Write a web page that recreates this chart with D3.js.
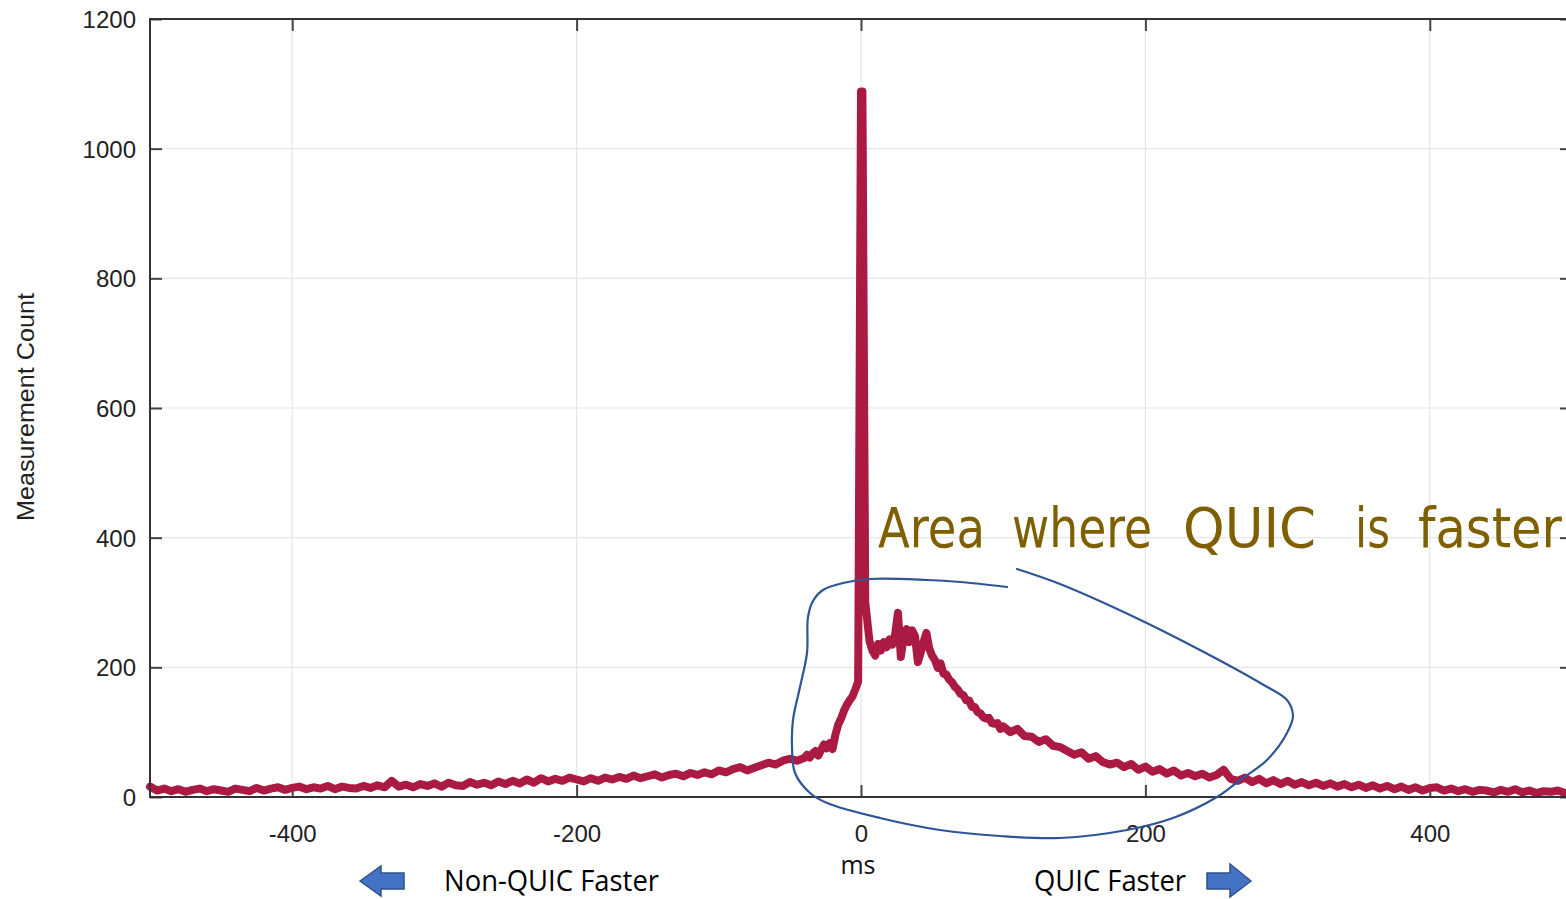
<!DOCTYPE html>
<html>
<head>
<meta charset="utf-8">
<script src="https://cdn.jsdelivr.net/npm/d3@7"></script>
<style>
  html, body { margin: 0; padding: 0; background: #fff; overflow: hidden; }
  svg { display: block; }
</style>
</head>
<body>
<svg id="chart" width="1566" height="899"></svg>
<script>
// ---------------- data ----------------
const msValues = [
  -500,-495,-490,-485,-480,-475,-470,-465,-460,-455,-450,-445,-440,-435,-430,-425,-420,-415,-410,-405,
  -400,-395,-390,-385,-380,-375,-370,-365,-360,-355,-350,-345,-340,-335,-330,-325,-320,-315,-310,-305,
  -300,-295,-290,-285,-280,-275,-270,-265,-260,-255,-250,-245,-240,-235,-230,-225,-220,-215,-210,-205,
  -200,-195,-190,-185,-180,-175,-170,-165,-160,-155,-150,-145,-140,-135,-130,-125,-120,-115,-110,-105,
  -100,-95,-90,-85,-80,-75,-70,-65,-60,-55,-50,-45,
  -40,-38,-36,-34,-32,-30,-28,-26,-24,-22,-20,-18,-16,-14,-12,-10,-8,-6,-4,-2,
  0,1,3,6,8,10,12,14,16,18,20,22,24,26,28,30,32,34,36,38,
  40,42,44,46,48,50,52,54,56,58,60,62,64,66,68,70,72,74,76,78,
  80,82,84,86,88,90,92,94,96,98,100,
  105,110,115,120,125,130,135,140,145,150,155,160,165,170,175,180,185,190,195,200,
  205,210,215,220,225,230,235,240,245,250,255,260,265,270,275,280,285,290,295,300,
  305,310,315,320,325,330,335,340,345,350,355,360,365,370,375,380,385,390,395,400,
  405,410,415,420,425,430,435,440,445,450,455,460,465,470,475,480,485,490,495,500
];
const counts = [
  16,10,13,9,12,8,11,13,9,12,10,8,13,11,9,14,10,13,15,11,
  14,16,12,15,13,17,12,16,14,13,17,14,18,15,25,16,19,15,20,17,
  21,16,22,18,17,23,19,22,18,24,20,25,21,27,22,29,24,28,25,30,
  27,24,29,25,30,27,31,28,33,29,32,35,30,34,36,32,37,34,38,35,
  41,38,43,46,41,45,49,53,50,56,59,56,
  60,65,61,67,71,64,73,81,75,83,74,96,112,121,133,142,149,155,166,178,
  1088,1088,300,240,226,218,236,226,239,231,243,235,251,284,216,246,259,239,257,248,
  208,223,239,253,229,218,211,199,206,190,189,181,177,170,166,159,157,149,149,139,
  139,131,129,123,121,122,114,113,114,105,109,
  100,105,94,93,85,89,79,77,71,65,69,59,63,54,50,53,46,51,42,47,
  39,43,36,41,33,37,32,36,30,34,42,28,25,30,23,28,21,26,20,25,
  19,23,18,22,17,21,16,20,15,19,14,18,13,17,12,16,11,15,10,14,
  15,10,13,9,12,8,11,10,7,11,8,12,7,10,6,9,8,10,6,9
];
const xTicks = [-400, -200, 0, 200, 400];
const yTicks = [0, 200, 400, 600, 800, 1000, 1200];
const xDomain = [-500, 500];
const yDomain = [0, 1200];
const yTitle = "Measurement Count";
const xTitle = "ms";
const leftNote = "Non-QUIC Faster";
const rightNote = "QUIC Faster";
const handWords = ["Area", "where", "QUIC", "is", "faster"];

// ---------------- layout ----------------
const svg = d3.select("#chart");
const M = { left: 150, top: 19, right: 1572, bottom: 797 };
const x = d3.scaleLinear().domain(xDomain).range([M.left, M.right]);
const y = d3.scaleLinear().domain(yDomain).range([M.bottom, M.top]);
const tickLen = 12;
const axisFont = "'Liberation Sans', Arial, sans-serif";
const fmt = d => String(d);

// grid
const grid = svg.append("g");
grid.selectAll("line.gx").data(xTicks).join("line")
  .attr("x1", d => x(d)).attr("x2", d => x(d))
  .attr("y1", M.top).attr("y2", M.bottom)
  .attr("stroke", "#e6e6e6").attr("stroke-width", 1.2);
grid.selectAll("line.gy").data(yTicks.filter(d => d > 0 && d < 1200)).join("line")
  .attr("x1", M.left).attr("x2", M.right)
  .attr("y1", d => y(d)).attr("y2", d => y(d))
  .attr("stroke", "#e6e6e6").attr("stroke-width", 1.2);

// axes (inward ticks, labels)
const axB = d3.axisBottom(x).tickValues(xTicks).tickSize(-tickLen).tickPadding(33).tickFormat(fmt);
const axT = d3.axisTop(x).tickValues(xTicks).tickSize(-tickLen).tickFormat("");
const axL = d3.axisLeft(y).tickValues(yTicks).tickSize(-tickLen).tickPadding(14).tickFormat(fmt);
const axR = d3.axisRight(y).tickValues(yTicks).tickSize(-tickLen).tickFormat("");

function styleAxis(g) {
  g.select(".domain").remove();
  g.selectAll(".tick line").attr("stroke", "#444").attr("stroke-width", 2);
  g.selectAll(".tick text").attr("fill", "#222").style("font-family", axisFont).style("font-size", "24px");
}
svg.append("g").attr("transform", `translate(0,${M.bottom})`).call(axB).call(styleAxis)
  .selectAll(".tick text").attr("dy", "0.5em");
svg.append("g").attr("transform", `translate(0,${M.top})`).call(axT).call(styleAxis);
svg.append("g").attr("transform", `translate(${M.left},0)`).call(axL).call(styleAxis)
  .selectAll(".tick text").attr("dy", "0.35em");
svg.append("g").attr("transform", `translate(${M.right},0)`).call(axR).call(styleAxis);

// data line
const data = msValues.map((v, i) => ({ ms: v, c: counts[i] }));
const line = d3.line().x(d => x(d.ms)).y(d => y(d.c));
svg.append("path").datum(data)
  .attr("d", line)
  .attr("fill", "none")
  .attr("stroke", "#aa1a43")
  .attr("stroke-width", 8)
  .attr("stroke-linejoin", "round")
  .attr("stroke-linecap", "round");

// frame
svg.append("rect")
  .attr("x", M.left).attr("y", M.top)
  .attr("width", M.right - M.left).attr("height", M.bottom - M.top)
  .attr("fill", "none").attr("stroke", "#333").attr("stroke-width", 2);

// y title
svg.append("text")
  .attr("transform", `translate(34,407) rotate(-90)`)
  .attr("text-anchor", "middle")
  .style("font-family", axisFont).style("font-size", "23px")
  .attr("fill", "#222")
  .attr("textLength", 228).attr("lengthAdjust", "spacingAndGlyphs")
  .text(yTitle);

// x title & notes
const noteFont = "'Open Sans', Lato, sans-serif";
svg.append("text").attr("x", 858).attr("y", 874).attr("text-anchor", "middle")
  .style("font-family", noteFont).style("font-size", "25px").attr("fill", "#111")
  .text(xTitle);
svg.append("text").attr("x", 444).attr("y", 891)
  .style("font-family", noteFont).style("font-size", "29px").attr("fill", "#000")
  .attr("textLength", 215).attr("lengthAdjust", "spacingAndGlyphs")
  .text(leftNote);
svg.append("text").attr("x", 1034).attr("y", 891)
  .style("font-family", noteFont).style("font-size", "29px").attr("fill", "#000")
  .attr("textLength", 152).attr("lengthAdjust", "spacingAndGlyphs")
  .text(rightNote);

// block arrows
const arrowStyle = g => g.attr("fill", "#4472c4").attr("stroke", "#2f528f").attr("stroke-width", 1.5);
svg.append("path")
  .attr("d", "M360,881 L381,866 L381,873 L404,873 L404,889 L381,889 L381,896 Z")
  .call(arrowStyle);
svg.append("path")
  .attr("d", "M1251,881 L1230,864 L1230,873 L1207,873 L1207,889 L1230,889 L1230,897 Z")
  .call(arrowStyle);

// handwritten annotation
const handPos = [[878, 107], [1012, 140], [1183, 133], [1355, 35], [1418, 144]];
const handG = svg.append("g");
handWords.forEach((w, i) => {
  handG.append("text")
    .attr("x", handPos[i][0]).attr("y", 547)
    .attr("textLength", handPos[i][1]).attr("lengthAdjust", "spacingAndGlyphs")
    .style("font-family", "'DejaVu Sans Condensed', 'DejaVu Sans', sans-serif")
    .style("font-size", "56px")
    .attr("fill", "#7f6000")
    .text(w);
});

// blue hand-drawn loop
const loopPts = [
  [1007,587],[960,582],[927,580],[870,579],[843,583],[823,590],[813,601],[808,617],
  [807,653],[800,687],[793,720],[792,747],[795,773],[810,793],[827,803],[880,818],
  [940,830],[1000,836],[1060,838],[1127,830],[1173,818],[1217,797],[1240,780],
  [1267,760],[1287,733],[1293,716],[1287,700],[1262,684],[1200,650],[1130,615],
  [1060,584],[1017,569]
];
svg.append("path")
  .attr("d", d3.line().curve(d3.curveCatmullRom.alpha(0.5))(loopPts))
  .attr("fill", "none").attr("stroke", "#2f5597").attr("stroke-width", 2.2)
  .attr("stroke-linecap", "round");
</script>
</body>
</html>
